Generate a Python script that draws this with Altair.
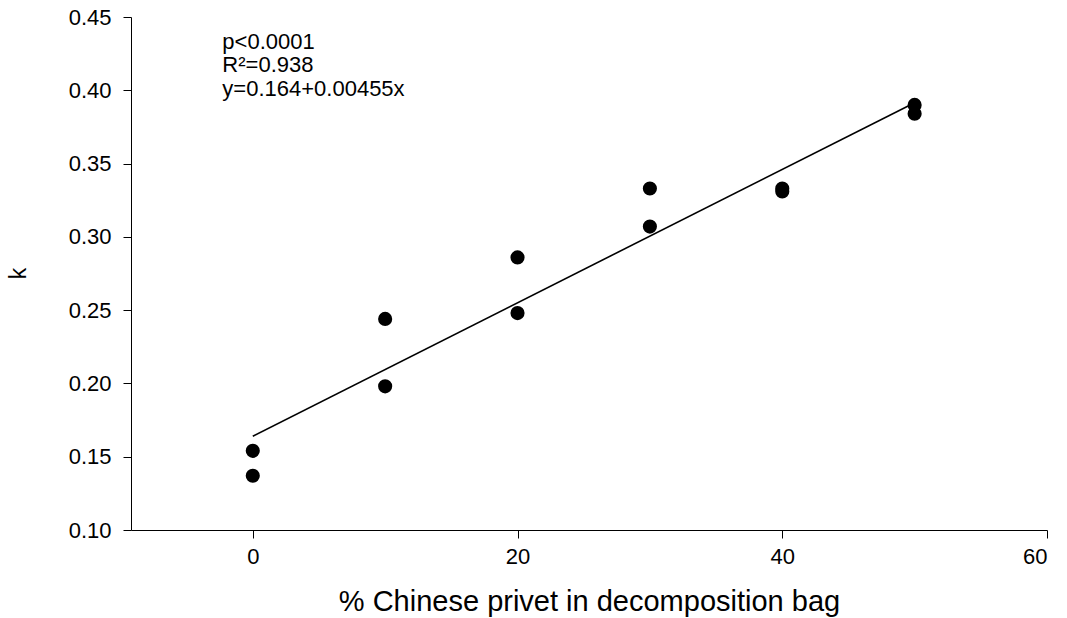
import altair as alt
import pandas as pd

# Data
pct_privet = [0, 0, 10, 10, 20, 20, 30, 30, 40, 40, 50, 50]
k_values = [0.154, 0.137, 0.244, 0.198, 0.286, 0.248, 0.333, 0.307, 0.333, 0.331, 0.390, 0.384]

fit_x = [0, 50]
fit_y = [0.164, 0.3915]

ann_text = ["p<0.0001", "R²=0.938", "y=0.164+0.00455x"]
ann_x = [-2.3, -2.3, -2.3]
ann_y = [0.4281, 0.4124, 0.3962]

x_ticks = [0, 20, 40, 60]
y_ticks = [0.10, 0.15, 0.20, 0.25, 0.30, 0.35, 0.40, 0.45]

FONT = "Liberation Sans"

pts = pd.DataFrame({"x": pct_privet, "k": k_values})
fit = pd.DataFrame({"x": fit_x, "k": fit_y})
ann = pd.DataFrame({"x": ann_x, "k": ann_y, "t": ann_text})

xscale = alt.Scale(domain=[-9.2, 60], nice=False, zero=False)
yscale = alt.Scale(domain=[0.10, 0.45], nice=False, zero=False)

xaxis = alt.Axis(values=x_ticks, title="% Chinese privet in decomposition bag",
                 grid=False, domainColor="black", tickColor="black", tickSize=8,
                 labelFontSize=22, labelFont=FONT, labelColor="black", labelPadding=8,
                 titleFontSize=29, titleFont=FONT, titleFontWeight="normal", titleColor="black",
                 titleY=71, titleBaseline="middle")
yaxis = alt.Axis(values=y_ticks, format=".2f", title="k",
                 grid=False, domainColor="black", tickColor="black", tickSize=8,
                 labelFontSize=22, labelFont=FONT, labelColor="black", labelPadding=12,
                 titleFontSize=23, titleFont=FONT, titleFontWeight="normal", titleColor="black",
                 titleX=-113, titleY=256, titleBaseline="middle", titleAlign="center")

points = alt.Chart(pts).mark_point(filled=True, color="black", size=200, opacity=1).encode(
    x=alt.X("x:Q", scale=xscale, axis=xaxis),
    y=alt.Y("k:Q", scale=yscale, axis=yaxis),
)

line = alt.Chart(fit).mark_line(color="black", strokeWidth=1.6).encode(
    x=alt.X("x:Q", scale=xscale),
    y=alt.Y("k:Q", scale=yscale),
)

text = alt.Chart(ann).mark_text(align="left", baseline="alphabetic", fontSize=22,
                                font=FONT, color="black").encode(
    x=alt.X("x:Q", scale=xscale),
    y=alt.Y("k:Q", scale=yscale),
    text="t:N",
)

chart = alt.layer(line, points, text).properties(
    width=916, height=513,
    autosize=alt.AutoSizeParams(type="none"),
    padding={"left": 131, "top": 17, "right": 20, "bottom": 88},
    background="white",
).configure_view(stroke=None)

chart.save("out.html", embed_options={"renderer": "svg", "actions": False})
